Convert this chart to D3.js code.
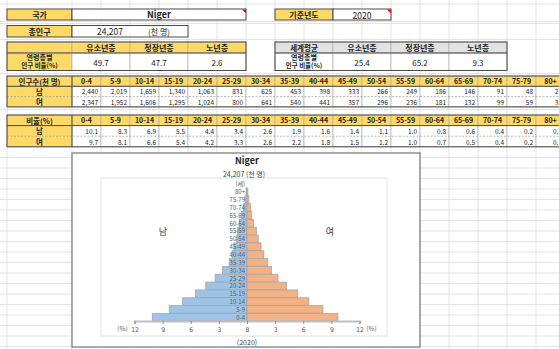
<!DOCTYPE html>
<html><head><meta charset="utf-8">
<script src="https://cdn.jsdelivr.net/npm/d3@7"></script>
<style>
html,body{margin:0;padding:0;background:#fff;}
svg{display:block;font-family:"Noto Sans CJK KR","Noto Sans",sans-serif;}
</style></head>
<body><svg id="c" width="559" height="349"></svg>
<script>
// ---------- data ----------
const country = "Niger";
const totalPop = "24,207";
const popUnit = "(천 명)";
const baseYear = "2020";
const ageStructLabels = ["유소년층", "청장년층", "노년층"];
const countryAgeStruct = [49.7, 47.7, 2.6];
const worldAgeStruct = [25.4, 65.2, 9.3];
const ageGroups = ["0-4","5-9","10-14","15-19","20-24","25-29","30-34","35-39","40-44","45-49","50-54","55-59","60-64","65-69","70-74","75-79","80+"];
const maleCount = [2440,2019,1659,1340,1063,831,625,453,398,333,266,249,186,146,91,48,23];
const femaleCount = [2347,1952,1606,1295,1024,800,641,540,441,357,296,236,181,132,99,59,32];
const malePct = [10.1,8.3,6.9,5.5,4.4,3.4,2.6,1.9,1.6,1.4,1.1,1.0,0.8,0.6,0.4,0.2,0.1];
const femalePct = [9.7,8.1,6.6,5.4,4.2,3.3,2.6,2.2,1.8,1.5,1.2,1.0,0.7,0.5,0.4,0.2,0.1];
const xTickValues = [-12,-9,-6,-3,0,3,6,9,12];

// ---------- layout ----------
const svg = d3.select("#c");
const YEL = "#FFD966", GRAY = "#E2E2E2", GRID = "#dcdcdc", INNER = "#b0b0b0", OUTER = "#4a4a4a";
const colX = [7, 72];
for (let i = 1; i <= ageGroups.length; i++) colX.push(72 + 29 * i);

svg.append("rect").attr("width", 559).attr("height", 349).attr("fill", "#fff");

// spreadsheet grid
const g0 = svg.append("g");
const hLines = [4, 21.5, 23.5, 39.5, 73.5, 109.5, 157.5];
for (let y = 168; y < 349; y += 10.5) hLines.push(y);
hLines.forEach(y => g0.append("line").attr("x1", 0).attr("x2", 559).attr("y1", y).attr("y2", y).attr("stroke", GRID).attr("stroke-width", 0.8));
colX.forEach(x => g0.append("line").attr("x1", x).attr("x2", x).attr("y1", 0).attr("y2", 349).attr("stroke", GRID).attr("stroke-width", 0.8));

function rect(x0, x1, y0, y1, fill, stroke, sw, dash) {
  const r = svg.append("rect").attr("x", x0).attr("y", y0).attr("width", x1 - x0).attr("height", y1 - y0)
    .attr("fill", fill || "none").attr("stroke", stroke || INNER).attr("stroke-width", sw || 0.7);
  if (dash) r.attr("stroke-dasharray", dash);
  return r;
}
function text(x, y, t, opt) {
  opt = opt || {};
  return svg.append("text").attr("x", x).attr("y", y).text(t)
    .attr("font-size", opt.size || 8).attr("font-weight", opt.bold ? "bold" : "normal")
    .attr("text-anchor", opt.anchor || "middle").attr("dominant-baseline", "central")
    .attr("fill", opt.color || "#222");
}
function line(x1, y1, x2, y2, stroke, sw, dash) {
  const l = svg.append("line").attr("x1", x1).attr("y1", y1).attr("x2", x2).attr("y2", y2)
    .attr("stroke", stroke).attr("stroke-width", sw);
  if (dash) l.attr("stroke-dasharray", dash);
}

// ---- 국가 ----
rect(7, 72, 9, 20, YEL, OUTER, 1); rect(72, 246, 9, 20, "#fff", OUTER, 1);
text(39.5, 14.5, "국가", {bold: true});
text(159, 14.5, country, {bold: true, size: 9});
svg.append("polygon").attr("points", "242,9.5 246,9.5 246,13.5").attr("fill", "#e00");
// ---- 기준년도 ----
rect(275, 333, 9, 20, YEL, OUTER, 1); rect(333, 391, 9, 20, "#fff", OUTER, 1);
text(304, 14.5, "기준년도", {bold: true});
text(362, 14.5, baseYear, {size: 8.5});
svg.append("polygon").attr("points", "387,9.5 391,9.5 391,13.5").attr("fill", "#e00");
// ---- 총인구 ----
rect(7, 72, 25.5, 37, YEL, OUTER, 1); rect(72, 188, 25.5, 37, "#fff", OUTER, 1);
text(39.5, 31.3, "총인구", {bold: true});
text(110, 31.3, totalPop, {size: 8.5});
text(159, 31.3, popUnit, {size: 8});

// ---- 연령층별 (country / world) ----
function ageTable(x0, labelFill, headFill, headLabel, vals) {
  const xs = [x0, x0 + (x0 === 7 ? 65 : 58)];
  for (let i = 1; i <= 3; i++) xs.push(xs[1] + 58 * i);
  rect(xs[0], xs[1], 42, 53, labelFill === YEL ? YEL : headFill, INNER, 0.7);
  if (headLabel) text((xs[0] + xs[1]) / 2, 47.3, headLabel, {bold: true, size: 7.5});
  rect(xs[0], xs[1], 53, 70.5, labelFill, INNER, 0.7);
  const cx = (xs[0] + xs[1]) / 2;
  const t2 = svg.append("text").attr("text-anchor", "middle").attr("font-weight", "bold").attr("fill", "#222");
  t2.append("tspan").attr("x", cx).attr("y", 60.2).attr("font-size", 7).text("연령층별");
  t2.append("tspan").attr("x", cx).attr("y", 68.3).attr("font-size", 6.5).text("인구 비율(%)");
  for (let i = 0; i < 3; i++) {
    rect(xs[i + 1], xs[i + 2], 42, 53, headFill, INNER, 0.7);
    text((xs[i + 1] + xs[i + 2]) / 2, 47.5, ageStructLabels[i], {bold: true});
    rect(xs[i + 1], xs[i + 2], 53, 70.5, "#fff", INNER, 0.7);
    text((xs[i + 1] + xs[i + 2]) / 2, 62, vals[i].toFixed(1), {size: 8});
  }
  rect(xs[0], xs[4], 42, 70.5, "none", OUTER, 1);
  line(xs[0], 53, xs[4], 53, OUTER, 1);
}
ageTable(7, YEL, YEL, null, countryAgeStruct);
ageTable(275, "#fff", GRAY, "세계평균", worldAgeStruct);

// ---- data tables ----
function dataTable(y0, rh, title, mVals, fVals, fmt) {
  const y1 = y0 + rh, y2 = y1 + rh, y3 = y2 + rh;
  rect(7, 72, y0, y1, YEL, INNER, 0.7);
  text(39.5, (y0 + y1) / 2, title, {bold: true, size: 7.5});
  rect(7, 72, y1, y3, YEL, INNER, 0.7);
  text(39.5, (y1 + y2) / 2, "남", {bold: true, size: 7.5});
  text(39.5, (y2 + y3) / 2, "여", {bold: true, size: 7.5});
  ageGroups.forEach((a, i) => {
    const xa = colX[i + 1], xb = colX[i + 2];
    rect(xa, xb, y0, y1, YEL, INNER, 0.7);
    text((xa + xb) / 2, (y0 + y1) / 2, a, {bold: true, size: 7});
    rect(xa, xb, y1, y3, "#fff", INNER, 0.7);
    text(xb - 3, (y1 + y2) / 2, fmt(mVals[i]), {size: 6.5, anchor: "end"});
    text(xb - 3, (y2 + y3) / 2, fmt(fVals[i]), {size: 6.5, anchor: "end"});
  });
  line(7, y2, 565, y2, "#999", 0.7, "2,1.5");
  line(7, y0, 565, y0, OUTER, 1);
  line(7, y1, 565, y1, OUTER, 1);
  line(7, y3, 565, y3, OUTER, 1);
  line(7, y0, 7, y3, OUTER, 1);
  line(72, y0, 72, y3, OUTER, 1);
}
dataTable(76, 10.3, "인구수(천 명)", maleCount, femaleCount, d3.format(","));
dataTable(115, 10.6, "비율(%)", malePct, femalePct, d => d.toFixed(1));

// ---------- chart ----------
rect(72, 420, 153, 347, "#fff", "#7f7f7f", 1.3);
rect(101, 387, 178, 336, "none", "#d9d9d9", 0.8);
text(247, 160.5, country, {bold: true, size: 9});
text(244, 173.5, totalPop + "  " + popUnit, {size: 7, color: "#404040"});
text(163, 231, "남", {size: 9, color: "#404040"});
text(330, 231, "여", {size: 9, color: "#404040"});
text(247, 342, "(" + baseYear + ")", {size: 7, color: "#404040"});

const x = d3.scaleLinear().domain([-12, 12]).range([134.5, 359.5]);
const y = d3.scaleBand().domain(ageGroups).range([321, 188]).paddingInner(0.04);
const gc = svg.append("g");
gc.selectAll("rect.m").data(ageGroups).join("rect").attr("class", "m")
  .attr("x", (d, i) => x(-malePct[i])).attr("y", d => y(d))
  .attr("width", (d, i) => x(0) - x(-malePct[i])).attr("height", y.bandwidth())
  .attr("fill", "#9DC3E6").attr("stroke", "#a6a6a6").attr("stroke-width", 0.8);
gc.selectAll("rect.f").data(ageGroups).join("rect").attr("class", "f")
  .attr("x", x(0)).attr("y", d => y(d))
  .attr("width", (d, i) => x(femalePct[i]) - x(0)).attr("height", y.bandwidth())
  .attr("fill", "#F4B183").attr("stroke", "#a6a6a6").attr("stroke-width", 0.8);

// category labels
gc.selectAll("text.cat").data(ageGroups).join("text").attr("class", "cat")
  .attr("x", x(0) - 2).attr("y", d => y(d) + y.bandwidth() / 2).text(d => d)
  .attr("text-anchor", "end").attr("dominant-baseline", "central")
  .attr("font-size", 6).attr("fill", "#595959");
text(x(0) - 2, 183.5, "(세)", {size: 6, anchor: "end", color: "#595959"});

// x axis
const ax = svg.append("g").attr("transform", "translate(0,321)")
  .call(d3.axisBottom(x).tickValues(xTickValues).tickFormat(d => Math.abs(d)).tickSize(3).tickPadding(3));
ax.select(".domain").attr("stroke", "#bfbfbf").attr("stroke-width", 1.8);
ax.selectAll(".tick line").attr("stroke", "#8c8c8c");
ax.selectAll(".tick text").attr("font-size", 6.5).attr("fill", "#595959").attr("font-family", "DejaVu Sans Mono, monospace");
text(x(-12) - 12, 328, "(%)", {size: 6.5, color: "#595959"});
text(x(12) + 12, 328, "(%)", {size: 6.5, color: "#595959"});
</script></body></html>
